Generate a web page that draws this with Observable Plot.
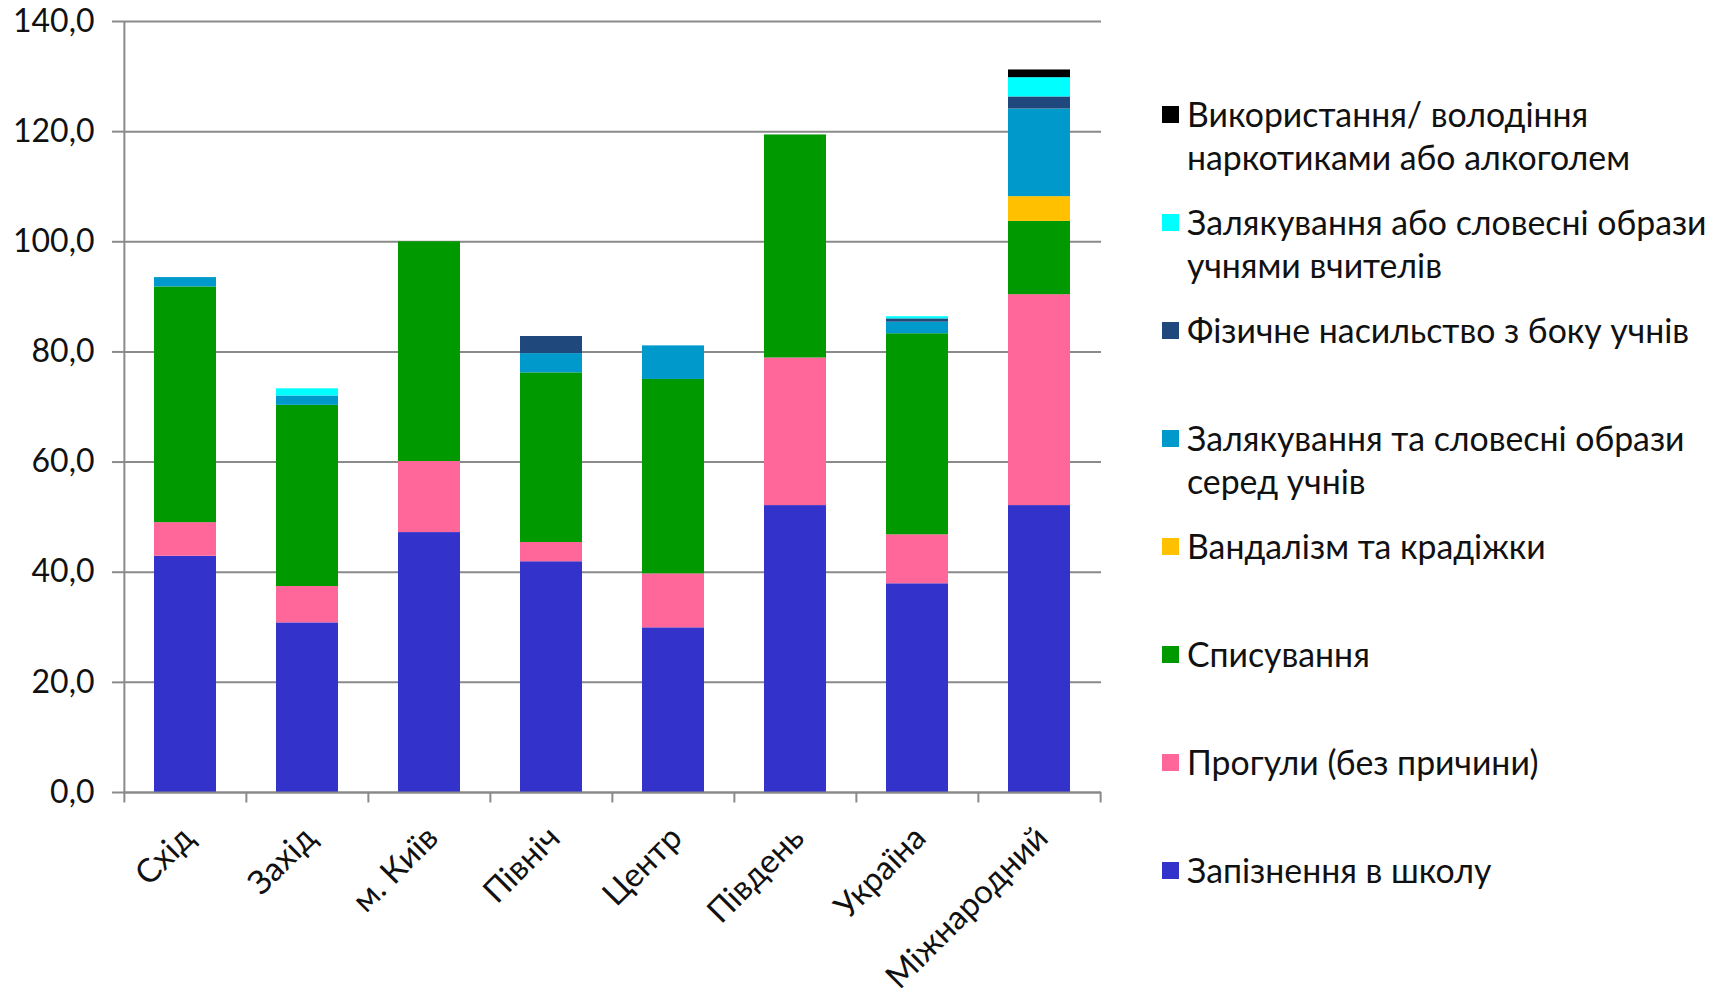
<!DOCTYPE html>
<html>
<head>
<meta charset="utf-8">
<script src="https://cdn.jsdelivr.net/npm/d3@7"></script>
<script src="https://cdn.jsdelivr.net/npm/@observablehq/plot@0.6"></script>
<style>
  html, body { margin: 0; padding: 0; background: #fff; overflow: hidden; }
  #wrap { position: relative; width: 1727px; height: 999px; font-family: Lato, "Open Sans", sans-serif; color: #111; }
  #chart { position: absolute; left: 0; top: 0; }
  .item { position: absolute; left: 1162px; display: flex; align-items: flex-start; }
  .sw { width: 17px; height: 17px; margin-top: 13px; margin-right: 8px; flex: none; }
  .lbl { font-size: 33.8px; line-height: 43px; white-space: pre; }
</style>
</head>
<body>
<div id="wrap"><div id="chart"></div><div id="legend"></div></div>
<script>
const categories = ["Схід", "Захід", "м. Київ", "Північ", "Центр", "Південь", "Україна", "Міжнародний"];
const series = [
  "Запізнення в школу",
  "Прогули (без причини)",
  "Списування",
  "Вандалізм та крадіжки",
  "Залякування та словесні образи серед учнів",
  "Фізичне насильство з боку учнів",
  "Залякування або словесні образи учнями вчителів",
  "Використання/ володіння наркотиками або алкоголем"
];
const legendLabels = [
  "Запізнення в школу",
  "Прогули (без причини)",
  "Списування",
  "Вандалізм та крадіжки",
  "Залякування та словесні образи\nсеред учнів",
  "Фізичне насильство з боку учнів",
  "Залякування або словесні образи\nучнями вчителів",
  "Використання/ володіння\nнаркотиками або алкоголем"
];
const colors = ["#3333CC", "#FF6699", "#009900", "#FFC000", "#0099CC", "#1F497D", "#00FFFF", "#000000"];

const lateness         = [42.9, 30.8, 47.2, 41.9, 29.9, 52.1, 37.9, 52.1];
const truancy          = [6.1, 6.6, 12.9, 3.5, 9.8, 26.8, 8.9, 38.3];
const cheating         = [42.8, 32.9, 39.9, 30.8, 35.3, 40.5, 36.5, 13.3];
const vandalism        = [0, 0, 0, 0, 0, 0, 0, 4.5];
const bullyingStudents = [1.7, 1.7, 0, 3.5, 6.1, 0, 2.1, 15.9];
const violence         = [0, 0, 0, 3.1, 0, 0, 0.6, 2.2];
const bullyingTeachers = [0, 1.3, 0, 0, 0, 0, 0.4, 3.5];
const drugs            = [0, 0, 0, 0, 0, 0, 0, 1.4];
const yTicks = [0, 20, 40, 60, 80, 100, 120, 140];

const seriesValues = [lateness, truancy, cheating, vandalism, bullyingStudents, violence, bullyingTeachers, drugs];
const data = [];
seriesValues.forEach((vals, si) => categories.forEach((c, ci) => data.push({category: c, series: series[si], value: vals[ci]})));

const W = 1110, H = 999, ML = 123, MR = 9, MT = 21, MB = 207;
const step = (W - ML - MR) / categories.length;
const gray = "#8a8a8a";

const chart = Plot.plot({
  width: W, height: H,
  marginLeft: ML, marginRight: MR, marginTop: MT, marginBottom: MB,
  style: {fontFamily: "Lato, 'Open Sans', sans-serif", background: "transparent", color: "#111", overflow: "visible"},
  x: {domain: categories, paddingInner: 0.49, paddingOuter: 0.245, label: null},
  y: {domain: [0, 140], label: null},
  color: {domain: series, range: colors},
  marks: [
    Plot.gridY(yTicks, {stroke: gray, strokeOpacity: 1, strokeWidth: 2}),
    Plot.barY(data, {x: "category", y: "value", fill: "series", order: series}),
    Plot.ruleY([0], {stroke: gray, strokeWidth: 2}),
    Plot.ruleX([categories[0]], {x: d => d, dx: -step / 2, y1: 0, y2: 140, stroke: gray, strokeWidth: 2}),
    Plot.ruleX(categories, {x: d => d, dx: -step / 2, y1: 0, y2: -1.9, stroke: gray, strokeWidth: 2}),
    Plot.ruleX([categories[categories.length - 1]], {x: d => d, dx: step / 2, y1: 0, y2: -1.9, stroke: gray, strokeWidth: 2}),
    Plot.axisY(yTicks, {tickSize: 11, tickPadding: 18, stroke: gray, strokeWidth: 2, fontSize: 32,
      tickFormat: d => d.toFixed(1).replace(".", ",")}),
    Plot.axisX({tickSize: 0, tickRotate: -45, tickPadding: 40, dx: 3, fontSize: 33})
  ]
});
document.getElementById("chart").appendChild(chart);

const legend = document.getElementById("legend");
const order = series.map((s, i) => i).reverse();
order.forEach((si, k) => {
  const item = document.createElement("div");
  item.className = "item";
  item.style.top = (93 + k * 108) + "px";
  const sw = document.createElement("div");
  sw.className = "sw";
  sw.style.background = colors[si];
  const lbl = document.createElement("div");
  lbl.className = "lbl";
  lbl.textContent = legendLabels[si];
  item.appendChild(sw);
  item.appendChild(lbl);
  legend.appendChild(item);
});
</script>
</body>
</html>
